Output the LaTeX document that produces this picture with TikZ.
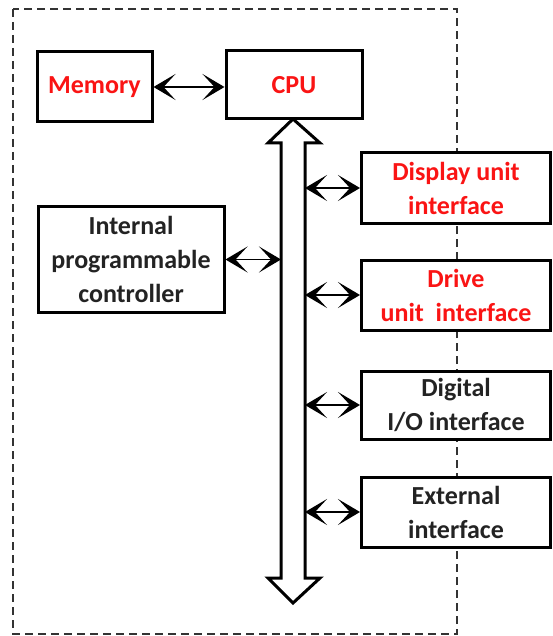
\documentclass[tikz,border=0pt]{standalone}
\usepackage{fontspec}
\setmainfont{Carlito}
\usetikzlibrary{arrows.meta}
\definecolor{txtred}{RGB}{250,20,20}
\definecolor{txtblk}{RGB}{35,35,35}
\begin{document}
\begin{tikzpicture}[x=1pt,y=-1pt,
 box/.style={draw=black,line width=3pt,fill=white,align=center,
   font=\fontsize{26}{34}\selectfont\bfseries,inner sep=0pt},
 redtxt/.style={text=txtred},
 blktxt/.style={text=txtblk},
 link/.style={line width=1.4pt,
   {Stealth[length=22pt 0,width=26pt 0,inset=12pt 0]}-{Stealth[length=22pt 0,width=26pt 0,inset=12pt 0]}},
 frame/.style={draw=black!80,line width=1.4pt,dash pattern=on 8pt off 5pt},
 busarrow/.style={draw=black,line width=3pt,fill=white,line join=miter}]
\useasboundingbox (0,0) rectangle (553,636);
\draw[frame] (13,9) rectangle (457,634);
% bus
\coordinate (busL) at (281,300);
\coordinate (busR) at (305,300);
\draw[busarrow] (293,119) -- (320,143) -- (305,143) -- (305,578) -- (320,578)
  -- (293,603) -- (268,578) -- (281,578) -- (281,143) -- (268,143) -- cycle;
% boxes
\node[box,redtxt,minimum width=115pt,minimum height=70pt] (mem) at (94.5,87) {Memory};
\node[box,redtxt,minimum width=136pt,minimum height=68pt] (cpu) at (294,85) {CPU};
\node[box,blktxt,minimum width=186pt,minimum height=105pt] (ipc) at (131,259.5) {Internal\\programmable\\controller};
\node[box,redtxt,minimum width=189pt,minimum height=70pt] (disp) at (456,188) {Display unit\\interface};
\node[box,redtxt,minimum width=189pt,minimum height=70pt] (drv) at (456,295) {Drive\\unit\ \ interface};
\node[box,blktxt,minimum width=189pt,minimum height=68pt] (dig) at (456,405) {Digital\\I/O interface};
\node[box,blktxt,minimum width=189pt,minimum height=70pt] (ext) at (456,512) {External\\interface};
% connectors
\draw[link] (mem.east) -- (mem.east -| cpu.west);
\draw[link] (ipc.east) -- (ipc.east -| busL);
\draw[link] (disp.west -| busR) -- (disp.west);
\draw[link] (drv.west -| busR) -- (drv.west);
\draw[link] (dig.west -| busR) -- (dig.west);
\draw[link] (ext.west -| busR) -- (ext.west);
\end{tikzpicture}
\end{document}
